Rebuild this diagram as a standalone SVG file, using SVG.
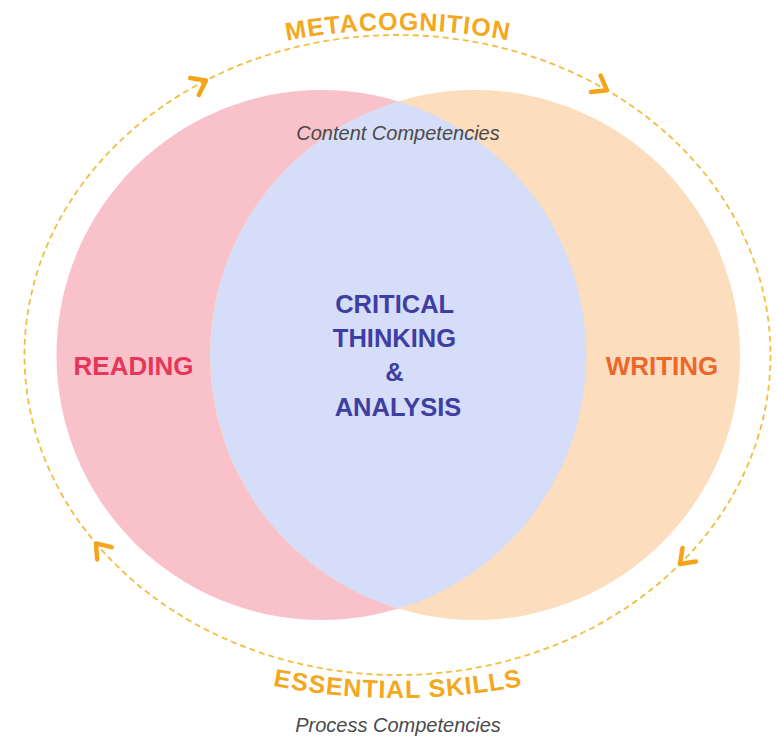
<svg xmlns="http://www.w3.org/2000/svg" xmlns:xlink="http://www.w3.org/1999/xlink" width="777" height="743" viewBox="0 0 777 743">
  <style>
    .lbl { font-family: "Liberation Sans", Arial, sans-serif; font-weight: bold; }
    .arc-lbl { font-family: "Liberation Sans", Arial, sans-serif; font-weight: bold; font-size: 25px; fill: #F4A820; letter-spacing: 1px; }
    .sub { font-family: "Liberation Sans", Arial, sans-serif; font-style: italic; font-size: 20px; fill: #4A4A4A; }
    .dash { fill: none; stroke: #F2BE3E; stroke-width: 1.8; stroke-dasharray: 6 4; }
    .chev { fill: none; stroke: #F5A31A; stroke-width: 4.5; stroke-linecap: round; stroke-linejoin: round; }
  </style>
  <defs>
    <path id="chevron" d="M -13 -9.5 L 0 0 L -13 9.5"/>
    <path id="topArc" d="M 98 112 A 590 590 0 0 1 698 112"/>
    <path id="botArc" d="M 98 624.6 A 650 650 0 0 0 698 624.6"/>
  </defs>
  <rect width="777" height="743" fill="#FFFFFF"/>

  <g id="reading">
    <circle cx="321.5" cy="355" r="265" fill="#F9C2CB"/>
    <text class="lbl" x="133.5" y="375" font-size="26" fill="#E5375A" text-anchor="middle">READING</text>
  </g>

  <g id="writing">
    <circle cx="475" cy="355" r="265" fill="#FCDDBD"/>
    <text class="lbl" x="662" y="375" font-size="26" fill="#EC672C" text-anchor="middle">WRITING</text>
  </g>

  <g id="critical-thinking">
    <path d="M 398.25 101.4 A 265 265 0 0 1 398.25 608.6 A 265 265 0 0 1 398.25 101.4 Z" fill="#D6DDF8"/>
    <text class="lbl" font-size="25.5" fill="#3E3EA3" text-anchor="middle">
      <tspan x="398" y="313">CRITICAL</tspan>
      <tspan x="398" y="347">THINKING</tspan>
      <tspan x="398" y="381">&amp;</tspan>
      <tspan x="398" y="416">ANALYSIS</tspan>
    </text>
  </g>

  <g id="content-competencies">
    <text class="sub" x="398" y="140" text-anchor="middle">Content Competencies</text>
  </g>

  <g id="connectors">
    <ellipse class="dash" cx="397.5" cy="355" rx="373" ry="320"/>
    <use href="#chevron" xlink:href="#chevron" class="chev" transform="translate(206 80.5) rotate(-27.4)"/>
    <use href="#chevron" xlink:href="#chevron" class="chev" transform="translate(607 90.3) rotate(30.2)"/>
    <use href="#chevron" xlink:href="#chevron" class="chev" transform="translate(680 564) rotate(135)"/>
    <use href="#chevron" xlink:href="#chevron" class="chev" transform="translate(96 543.4) rotate(229.7)"/>
  </g>

  <g id="metacognition">
    <text class="arc-lbl"><textPath href="#topArc" xlink:href="#topArc" startOffset="50%" text-anchor="middle">METACOGNITION</textPath></text>
  </g>

  <g id="essential-skills">
    <text class="arc-lbl"><textPath href="#botArc" xlink:href="#botArc" startOffset="50%" text-anchor="middle">ESSENTIAL SKILLS</textPath></text>
    <text class="sub" x="398" y="732" text-anchor="middle">Process Competencies</text>
  </g>
</svg>
